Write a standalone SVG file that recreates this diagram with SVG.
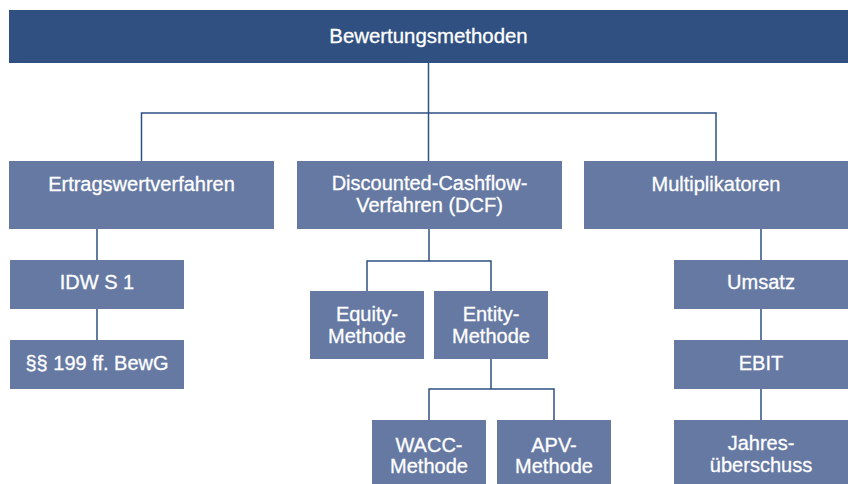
<svg xmlns="http://www.w3.org/2000/svg" width="848" height="484" viewBox="0 0 848 484">
<style>
.top{fill:#2f5080}
.box{fill:#6679a3}
text{font-family:"Liberation Sans",Arial,sans-serif;font-size:20px;fill:#ffffff;stroke:#ffffff;stroke-width:0.3px;text-anchor:middle}
.t0{font-size:20.4px}
.c{fill:none;stroke:#2f5083;stroke-width:1.5}
</style>
<rect width="848" height="484" fill="#ffffff"/>
<g id="connectors">
<path class="c" d="M428.5 62V113M141.5 161V113H716V161M428.5 113V161"/>
<path class="c" d="M97 229V260M97 309V340"/>
<path class="c" d="M429 229V261M367 291V261H491V291"/>
<path class="c" d="M491 359V389M429 420V389H554V420"/>
<path class="c" d="M761 229V260M761 309V340M761 389V420"/>
</g>
<g id="n-bewertungsmethoden"><rect class="top" x="9" y="10" width="839" height="53"/><text class="t0" x="428.5" y="43">Bewertungsmethoden</text></g>
<g id="n-ertragswert"><rect class="box" x="9" y="161" width="265" height="68"/><text x="141.5" y="190.5">Ertragswertverfahren</text></g>
<g id="n-dcf"><rect class="box" x="297" y="161" width="265" height="68"/><text x="429.5" y="190">Discounted-Cashflow-</text><text x="429.5" y="211.5">Verfahren (DCF)</text></g>
<g id="n-multi"><rect class="box" x="584" y="161" width="264" height="68"/><text x="716" y="190.5">Multiplikatoren</text></g>
<g id="n-idw"><rect class="box" x="10" y="260" width="174" height="49"/><text x="97" y="289">IDW S 1</text></g>
<g id="n-bewg"><rect class="box" x="10" y="340" width="174" height="49"/><text x="97" y="370">§§ 199 ff. BewG</text></g>
<g id="n-equity"><rect class="box" x="310" y="291" width="114" height="68"/><text x="367" y="320.5">Equity-</text><text x="367" y="342.5">Methode</text></g>
<g id="n-entity"><rect class="box" x="434" y="291" width="114" height="68"/><text x="491" y="320.5">Entity-</text><text x="491" y="342.5">Methode</text></g>
<g id="n-wacc"><rect class="box" x="372" y="420" width="114" height="64"/><text x="429" y="451.5">WACC-</text><text x="429" y="472.5">Methode</text></g>
<g id="n-apv"><rect class="box" x="497" y="420" width="114" height="64"/><text x="554" y="451.5">APV-</text><text x="554" y="472.5">Methode</text></g>
<g id="n-umsatz"><rect class="box" x="674" y="260" width="174" height="49"/><text x="761" y="289">Umsatz</text></g>
<g id="n-ebit"><rect class="box" x="674" y="340" width="174" height="49"/><text x="761" y="370">EBIT</text></g>
<g id="n-jahres"><rect class="box" x="674" y="420" width="174" height="64"/><text x="761" y="450">Jahres-</text><text x="761" y="471.5">überschuss</text></g>
</svg>
